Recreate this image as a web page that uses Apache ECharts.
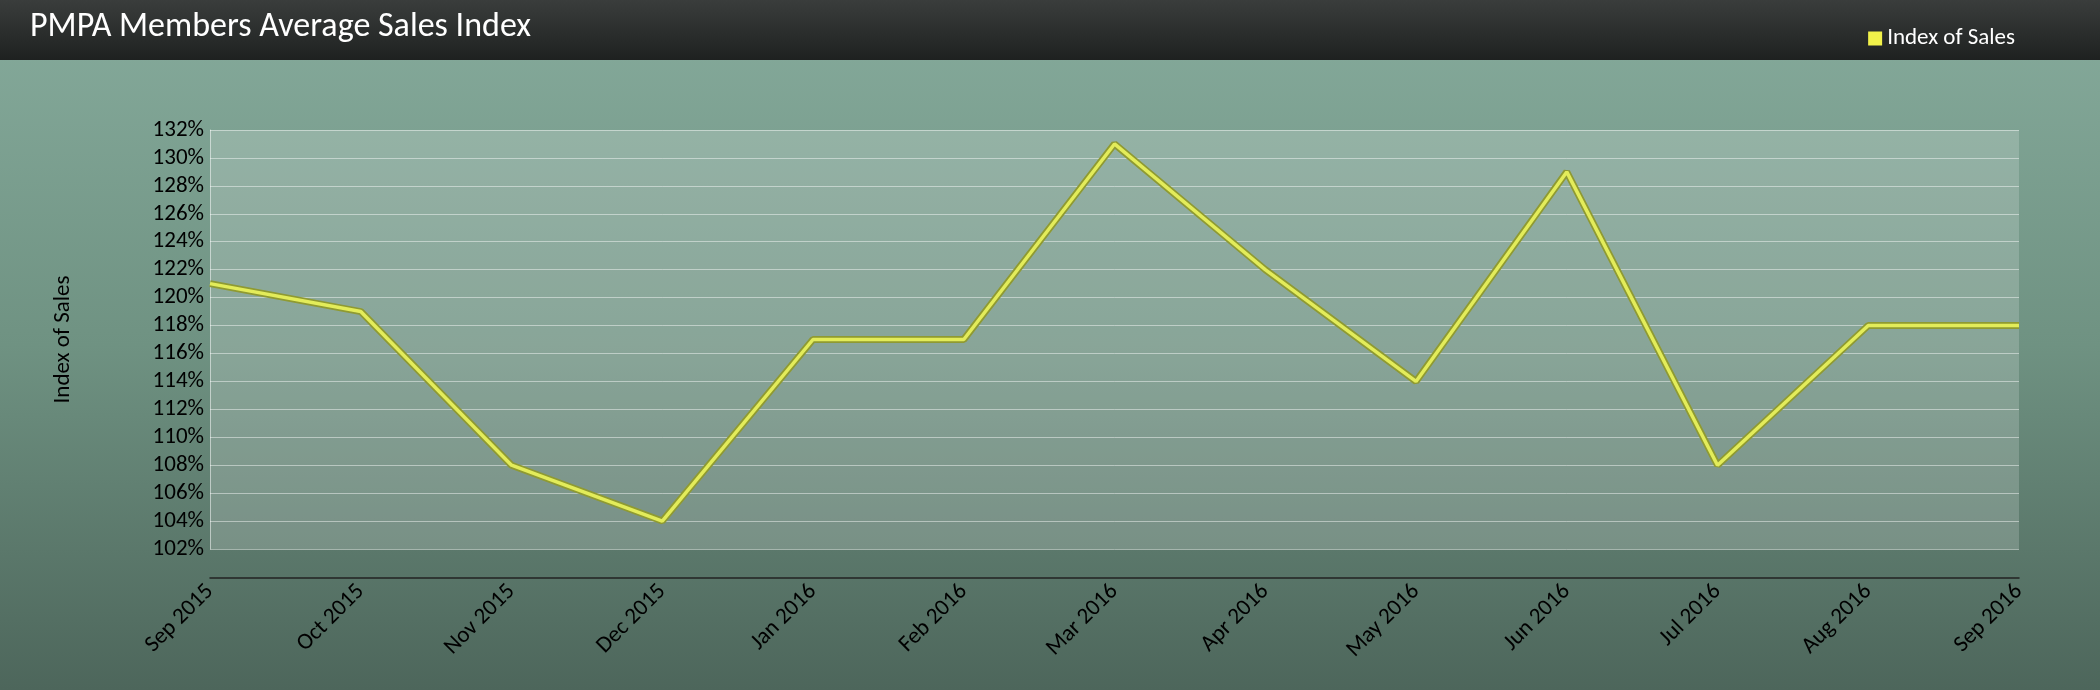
<!DOCTYPE html>
<html><head><meta charset="utf-8">
<script src="https://cdn.jsdelivr.net/npm/echarts@6/dist/echarts.min.js"></script>
<style>html,body{margin:0;padding:0;}#c{width:2100px;height:690px;}</style>
</head><body><div id="c"></div>
<script>
const categories=["Sep 2015","Oct 2015","Nov 2015","Dec 2015","Jan 2016","Feb 2016","Mar 2016","Apr 2016","May 2016","Jun 2016","Jul 2016","Aug 2016","Sep 2016"];
const salesIndex=[121,119,108,104,117,117,131,122,114,129,108,118,118];
const chart=echarts.init(document.getElementById('c'));
const font='Calibri, "Liberation Sans", "DejaVu Sans", sans-serif';
chart.setOption({
  backgroundColor:{type:'linear',x:0,y:0,x2:0,y2:1,colorStops:[{offset:0,color:'#86ab9c'},{offset:0.5,color:'#6f9282'},{offset:1,color:'#4d665b'}]},
  graphic:[
    {type:'rect',left:0,top:0,shape:{width:2100,height:60},style:{fill:{type:'linear',x:0,y:0,x2:0,y2:1,colorStops:[{offset:0,color:'#3a3d3c'},{offset:1,color:'#1e2120'}]}}},
    {type:'text',left:30,top:10,style:{text:'PMPA Members Average Sales Index',fill:'#ffffff',font:'34px '+font}}
  ],
  legend:{right:80,top:22,itemWidth:14,itemHeight:14,icon:'rect',textStyle:{color:'#ffffff',fontSize:23,fontFamily:font},data:['Index of Sales']},
  grid:{left:210,right:81,top:130,bottom:141,show:true,backgroundColor:'rgba(255,255,255,0.18)',borderWidth:0},
  xAxis:{type:'category',data:categories,boundaryGap:false,offset:29,
    axisLine:{lineStyle:{color:'#222',width:1.5}},axisTick:{show:false},
    axisLabel:{rotate:45,color:'#000',fontSize:23,fontFamily:font,margin:10,interval:0},splitLine:{show:false}},
  yAxis:{type:'value',min:102,max:132,interval:2,name:'Index of Sales',nameLocation:'middle',nameGap:135,
    nameTextStyle:{color:'#000',fontSize:23,fontFamily:font},
    axisLabel:{formatter:'{value}%',color:'#000',fontSize:23,fontFamily:font,margin:6},
    axisLine:{show:true,lineStyle:{color:'rgba(255,255,255,0.5)'}},
    splitLine:{lineStyle:{color:'rgba(255,255,255,0.45)'}}},
  series:[
    {name:'outline',type:'line',data:salesIndex,symbol:'none',silent:true,
      lineStyle:{color:'#8f9a32',width:7},z:1},
    {name:'Index of Sales',type:'line',data:salesIndex,symbol:'none',
      itemStyle:{color:'#f2f24a'},
      lineStyle:{color:'#e3ec5a',width:3.5},z:2,
      labelLayout:{hideOverlap:false},
      label:{show:true,formatter:'{c}%',position:'top',color:'#000',fontSize:23,fontFamily:font,distance:4}}
  ]
});
</script></body></html>
